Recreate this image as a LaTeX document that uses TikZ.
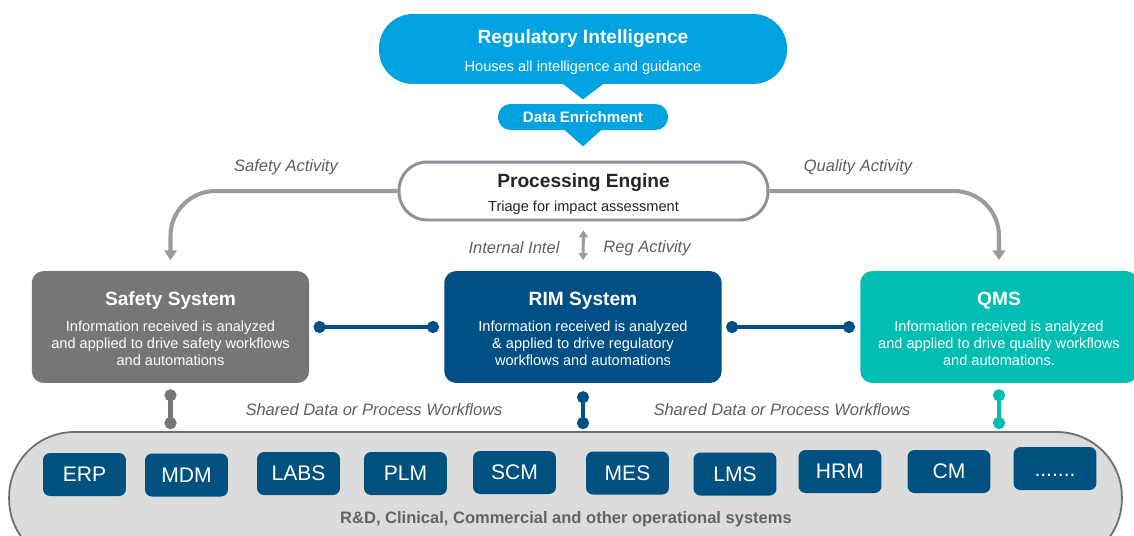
\documentclass[tikz,border=0pt]{standalone}
\usepackage{fontspec}
\setmainfont{Liberation Sans}
\usetikzlibrary{arrows.meta}

\definecolor{riblue}{RGB}{0,163,224}
\definecolor{rimblue}{RGB}{0,80,134}
\definecolor{appblue}{RGB}{0,81,128}
\definecolor{qmsteal}{RGB}{0,190,178}
\definecolor{safetygray}{RGB}{118,118,118}
\definecolor{enginegray}{RGB}{140,146,152}
\definecolor{arrowgray}{RGB}{155,155,155}
\definecolor{labelgray}{RGB}{95,95,95}
\definecolor{enginetext}{RGB}{38,38,38}
\definecolor{opsfill}{RGB}{220,220,220}
\definecolor{opsdraw}{RGB}{105,110,115}
\definecolor{opstext}{RGB}{95,100,105}

\newcommand{\boxtitle}{\fontsize{10.9}{13}\selectfont\bfseries}
\newcommand{\boxbody}{\fontsize{8.3}{9.7}\selectfont}
\newcommand{\topstrut}[1]{\rule{0pt}{#1}}

\begin{document}
\begin{tikzpicture}[x=0.02cm,y=-0.02cm,
    sysbox/.style={rounded corners=0.24cm,minimum width=5.55cm,minimum height=2.24cm,inner sep=0pt,align=center,text=white,font=\boxbody},
    appbox/.style={fill=appblue,rounded corners=0.14cm,minimum width=1.66cm,minimum height=0.86cm,inner sep=0pt,text=white,font=\fontsize{12}{14}\selectfont},
    actlabel/.style={text=labelgray,font=\fontsize{9.4}{11}\selectfont\itshape},
    actarrow/.style={draw=arrowgray,line width=2.3pt,-{Triangle[length=5.5pt,width=7pt]}},
    dotlink/.style={line width=2.3pt,{Circle[length=6.8pt]}-{Circle[length=6.8pt]}}]
        \useasboundingbox (0,0) rectangle (1134,535);
        \clip (0,0) rectangle (1134,535);

        % top of the flow
        \node[fill=riblue,rounded corners=0.68cm,minimum width=8.16cm,minimum height=1.4cm,inner sep=0pt,align=center,text=white,font=\boxbody] (ri) at (583,49)
            {{\boxtitle\topstrut{11.4pt}Regulatory Intelligence}\\[6pt]Houses all intelligence and guidance};
        \fill[riblue] ([xshift=-0.42cm,yshift=0.02cm]ri.south) -- ([xshift=0.42cm,yshift=0.02cm]ri.south) -- ([yshift=-0.3cm]ri.south) -- cycle;
        \node[fill=riblue,rounded corners=0.25cm,minimum width=3.4cm,minimum height=0.52cm,inner sep=0pt,text=white,font=\fontsize{8.6}{10}\selectfont\bfseries] (enrich) at (583,117) {Data Enrichment};
        \fill[riblue] ([xshift=-0.38cm,yshift=0.02cm]enrich.south) -- ([xshift=0.38cm,yshift=0.02cm]enrich.south) -- ([yshift=-0.32cm]enrich.south) -- cycle;
        \node[draw=enginegray,line width=1.7pt,fill=white,rounded corners=0.56cm,minimum width=7.38cm,minimum height=1.16cm,inner sep=0pt,align=center,text=enginetext,font=\boxbody] (engine) at (583.5,191)
            {{\boxtitle\topstrut{11.4pt}Processing Engine}\\[3.6pt]Triage for impact assessment};

        % systems
        \node[sysbox,fill=safetygray] (safety) at (170.5,327)
            {{\boxtitle\topstrut{10.2pt}Safety System}\\[5pt]Information received is analyzed\\and applied to drive safety workflows\\and automations};
        \node[sysbox,fill=rimblue] (rim) at (583,327)
            {{\boxtitle\topstrut{10.2pt}RIM System}\\[5pt]Information received is analyzed\\\& applied to drive regulatory\\workflows and automations};
        \node[sysbox,fill=qmsteal] (qms) at (999,327)
            {{\boxtitle\topstrut{10.2pt}QMS}\\[5pt]Information received is analyzed\\and applied to drive quality workflows\\and automations.};

        \draw[actarrow] (engine.west) [rounded corners=0.9cm] -| ([yshift=6pt]safety.north);
        \draw[actarrow] (engine.east) [rounded corners=0.9cm] -| ([yshift=6pt]qms.north);
        \node[actlabel] (safetyact) at (286,167) {Safety Activity};
        \node[actlabel] (qualityact) at (858,167) {Quality Activity};
        \draw[draw=arrowgray,line width=1.7pt,{Triangle[length=4pt,width=5pt]}-{Triangle[length=4pt,width=5pt]}] ([yshift=-5pt]engine.south) -- ([yshift=6pt]rim.north);
        \node[actlabel] (intel) at (514,248) {Internal Intel};
        \node[actlabel] (regact) at (647,248) {Reg Activity};

        \draw[dotlink,draw=rimblue] ([xshift=2.3pt]safety.east) -- ([xshift=-2.8pt]rim.west);
        \draw[dotlink,draw=rimblue] ([xshift=2.3pt]rim.east) -- ([xshift=-2.8pt]qms.west);

        % operational systems
        \node[draw=opsdraw,line width=1pt,fill=opsfill,rounded corners=1.3cm,minimum width=22.26cm,minimum height=2.64cm,inner sep=0pt] (ops) at (565.5,498) {};
        \draw[dotlink,draw=safetygray] ([yshift=-3.4pt]safety.south) -- ([yshift=1.2pt]safety.south |- ops.north);
        \draw[dotlink,draw=rimblue] ([yshift=-4.5pt]rim.south) -- ([yshift=1.2pt]rim.south |- ops.north);
        \draw[dotlink,draw=qmsteal] ([yshift=-3.4pt]qms.south) -- ([yshift=1.2pt]qms.south |- ops.north);
        \node[actlabel] (sharedl) at (374,410) {Shared Data or Process Workflows};
        \node[actlabel] (sharedr) at (782,410) {Shared Data or Process Workflows};

        \node[appbox] (erp) at (84.5,474.5) {ERP};
        \node[appbox] (mdm) at (186.5,475) {MDM};
        \node[appbox] (labs) at (298.5,473.5) {LABS};
        \node[appbox] (plm) at (405.5,473.5) {PLM};
        \node[appbox] (scm) at (514.5,472.5) {SCM};
        \node[appbox] (mes) at (627.5,473) {MES};
        \node[appbox] (lms) at (735,474) {LMS};
        \node[appbox] (hrm) at (840,471.5) {HRM};
        \node[appbox] (cm) at (949,471.5) {CM};
        \node[appbox] (more) at (1055,468.5) {\topstrut{8.6pt}.......};
        \node[text=opstext,font=\fontsize{9.4}{11}\selectfont\bfseries] (opslabel) at (566,519) {R\&D, Clinical, Commercial and other operational systems};
    \end{tikzpicture}
\end{document}
